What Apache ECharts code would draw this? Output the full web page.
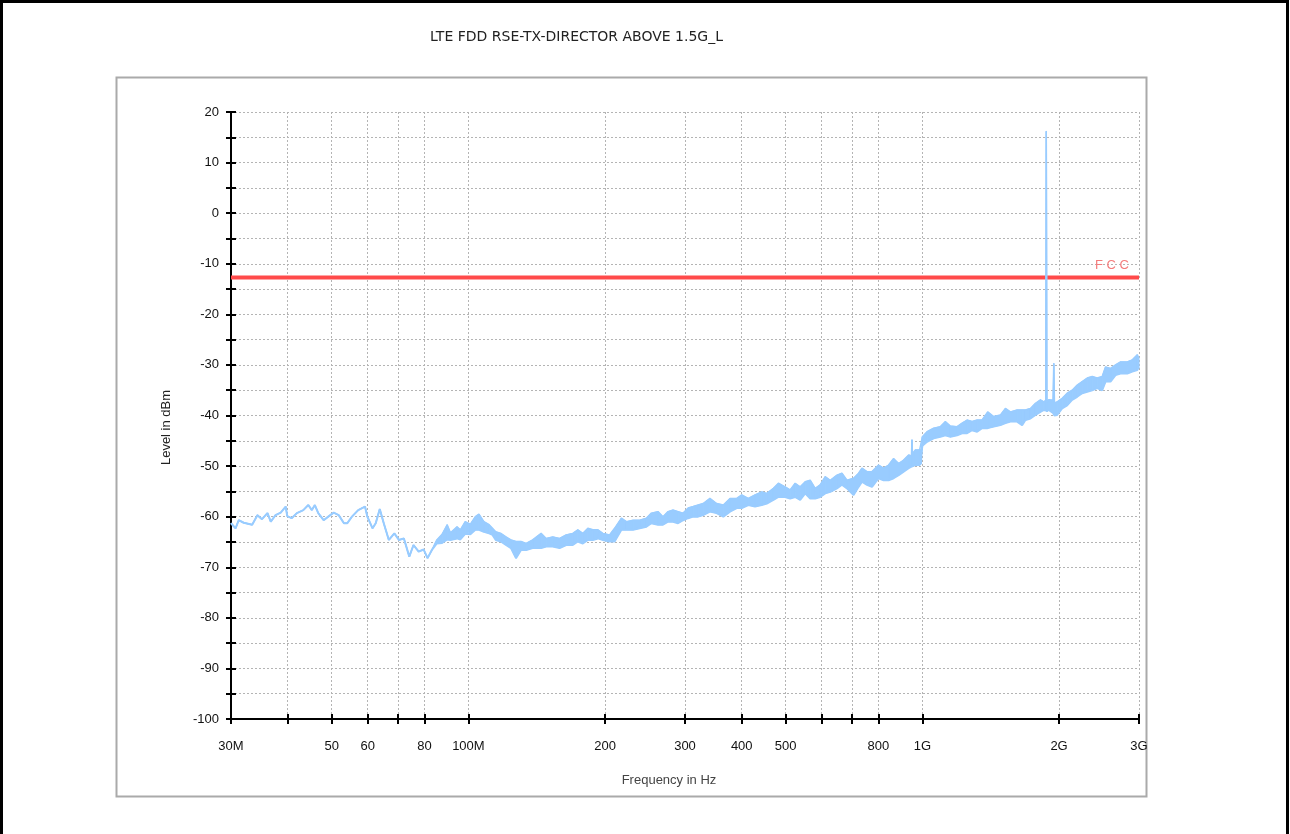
<!DOCTYPE html>
<html>
<head>
<meta charset="utf-8">
<title>LTE FDD RSE-TX-DIRECTOR ABOVE 1.5G_L</title>
<script src="https://cdn.jsdelivr.net/npm/echarts@6/dist/echarts.min.js"></script>
<style>
  html, body { margin: 0; padding: 0; background: #fff; }
  #chart { width: 1290px; height: 834px; }
</style>
</head>
<body>
<div id="chart"></div>
<script>
// frequency in MHz, level in dBm (lower / upper edge of the measured trace)
const freqMHz = [
  30, 30.7, 31.2, 32.0, 33.4, 34.3, 35.1, 36.1, 36.7, 37.6,
  38.6, 39.6, 39.9, 40.8, 41.9, 43.3, 44.4, 45.2, 45.9, 46.7,
  48.0, 49.3, 50.5, 51.8, 53.2, 54.1, 55.4, 57.2, 59.2, 59.9,
  61.5, 62.5, 63.8, 65.1, 66.8, 68.7, 70.3, 72.1, 74.1, 75.7,
  77.7, 79.7, 81.3, 83.2, 85.2, 87.5, 89.8, 91.3, 94.4, 96.0,
  98.4, 101, 103.6, 105.5, 108.2, 111.1, 113.0, 114.9, 117.9, 121.0,
  124.1, 127.3, 130.6, 134.0, 138.5, 144.6, 148.4, 153.4, 158.8, 164.2,
  169.8, 174.2, 178.7, 183.3, 188.0, 192.9, 197.8, 204.6, 209.9, 217.3,
  222.9, 230.5, 238.4, 246.6, 252.9, 261.6, 268.3, 275.2, 282.3, 289.6,
  297.1, 304.7, 312.6, 320.6, 328.9, 340.4, 352.2, 364.3, 376.9, 390.0,
  400.0, 413.6, 427.9, 442.8, 454.2, 469.7, 481.8, 498.4, 511.3, 524.5,
  538.0, 551.9, 566.1, 580.6, 595.5, 610.9, 626.6, 648.3, 665.0, 682.1,
  705.4, 723.5, 736.1, 755.0, 774.5, 800.8, 821.3, 842.5, 864.1, 886.4,
  909.2, 932.6, 946.0, 948.6, 951.0, 964.8, 986.1, 995.0, 1000, 1023.9,
  1058.9, 1095.5, 1123.6, 1152.4, 1192.3, 1223.0, 1254.4, 1286.8, 1319.8, 1353.6,
  1392.8, 1435.8, 1485.5, 1523.6, 1562.7, 1616.8, 1658.3, 1686.4, 1729.7, 1774.1,
  1819.8, 1850.6, 1870, 1874.5, 1876.5, 1881, 1898.0, 1940, 1947, 1954,
  1980.6, 2031.5, 2083.6, 2137.0, 2192.5, 2248.7, 2306.4, 2366.1, 2426.8, 2489.1,
  2531.4, 2596.5, 2663.0, 2731.4, 2826.2, 2899.2, 2973.8, 3000
]
const levelLow = [
  -61.3, -62.3, -60.7, -61.2, -61.6, -59.7, -60.5, -59.3, -61.0, -59.7,
  -59.2, -58.0, -59.9, -60.3, -59.3, -58.7, -57.7, -58.7, -57.7, -59.3,
  -60.7, -59.9, -59.2, -59.7, -61.3, -61.3, -60.0, -58.7, -58.0, -60.0,
  -62.3, -61.3, -58.5, -61.3, -64.6, -63.3, -64.6, -64.3, -67.9, -65.6,
  -66.9, -66.5, -68.2, -66.5, -65.3, -65.2, -64.5, -64.6, -64.3, -64.5,
  -63.4, -63.5, -62.6, -62.6, -63.0, -63.3, -63.6, -64.6, -64.9, -65.6,
  -66.2, -68.2, -66.6, -66.6, -66.2, -66.2, -65.9, -65.9, -66.2, -65.6,
  -65.6, -64.9, -65.3, -64.6, -64.6, -64.3, -64.6, -64.9, -64.9, -62.6,
  -62.6, -62.6, -62.3, -62.0, -61.3, -61.6, -61.6, -61.0, -61.0, -61.3,
  -60.7, -60.3, -60.0, -60.0, -59.7, -59.0, -59.3, -60.0, -59.0, -58.3,
  -58.3, -57.7, -58.0, -57.7, -57.4, -56.7, -56.1, -56.1, -56.4, -56.1,
  -56.7, -55.4, -56.4, -56.4, -56.1, -55.4, -55.1, -54.4, -53.7, -54.4,
  -55.7, -54.1, -53.1, -53.7, -54.1, -52.4, -52.8, -52.8, -52.4, -51.8,
  -51.1, -50.4, -50.1, -50.1, -50.1, -49.8, -49.8, -49.6, -46.0, -45.2,
  -44.5, -44.2, -43.9, -44.2, -43.9, -43.5, -43.5, -42.9, -43.2, -42.5,
  -42.5, -42.2, -41.9, -41.5, -41.2, -41.2, -41.9, -40.9, -40.6, -39.9,
  -39.3, -38.9, -39.0, -39.0, -39.0, -39.3, -38.9, -39.5, -39.5, -40.0,
  -39.9, -38.6, -38.0, -36.9, -36.3, -35.6, -35.3, -35.0, -34.6, -35.0,
  -33.3, -33.3, -32.0, -31.7, -31.7, -31.3, -31.0, -30.4
]
const levelHigh = [
  -61.3, -62.3, -60.7, -61.2, -61.6, -59.7, -60.5, -59.3, -61.0, -59.7,
  -59.2, -58.0, -59.9, -60.3, -59.3, -58.7, -57.7, -58.7, -57.7, -59.3,
  -60.7, -59.9, -59.2, -59.7, -61.3, -61.3, -60.0, -58.7, -58.0, -60.0,
  -62.3, -61.3, -58.5, -61.3, -64.6, -63.3, -64.6, -64.3, -67.9, -65.6,
  -66.9, -66.5, -68.2, -66.5, -64.6, -63.5, -61.6, -63.2, -62.0, -62.6,
  -61.0, -61.5, -60.0, -59.5, -61.0, -61.6, -62.3, -63.0, -63.3, -64.0,
  -64.6, -64.9, -64.9, -65.3, -64.6, -63.3, -64.3, -64.0, -64.3, -63.6,
  -63.3, -62.6, -63.3, -62.3, -62.6, -62.6, -63.3, -63.6, -62.3, -60.3,
  -61.0, -60.7, -60.7, -60.3, -59.3, -59.0, -60.0, -59.0, -58.7, -59.0,
  -59.3, -58.3, -58.0, -57.7, -57.4, -56.4, -57.4, -57.7, -56.4, -56.4,
  -55.7, -56.4, -55.7, -55.1, -55.4, -54.4, -53.4, -54.1, -54.7, -53.4,
  -54.1, -53.1, -52.8, -54.4, -53.7, -52.1, -52.8, -51.8, -51.4, -52.8,
  -52.4, -51.4, -50.4, -51.1, -51.1, -49.8, -50.4, -49.8, -48.5, -49.5,
  -48.8, -47.8, -48.0, -44.8, -47.6, -46.8, -46.8, -46.5, -44.2, -43.2,
  -42.5, -42.2, -41.2, -42.1, -42.2, -41.5, -40.9, -41.2, -40.9, -40.9,
  -39.3, -40.2, -39.9, -38.6, -39.3, -38.9, -38.9, -38.9, -38.6, -37.6,
  -36.9, -37.3, -37.0, 16.2, 16.2, -37.3, -36.9, -37.0, -29.7, -37.5,
  -37.3, -36.6, -35.6, -35.0, -34.0, -33.3, -32.6, -32.3, -32.6, -32.3,
  -30.4, -30.7, -30.0, -29.4, -29.4, -29.0, -28.0, -28.7
]
const fccLimit = -12.7

const xTickValues = [30, 40, 50, 60, 70, 80, 100, 200, 300, 400, 500, 600, 700, 800, 1000, 2000, 3000]
const xLabelValues = [30, 50, 60, 80, 100, 200, 300, 400, 500, 800, 1000, 2000, 3000]
const xLabelText = ['30M', '50', '60', '80', '100M', '200', '300', '400', '500', '800', '1G', '2G', '3G']

const traceColor = '#99ccff'
const limitColor = '#ff4a4a'
const gridDots = { color: '#b4b4b4', width: 1, type: [2, 2] }
const axisBlack = { color: '#000', width: 2 }

const chart = echarts.init(document.getElementById('chart'), null, { renderer: 'canvas' })

const bandData = freqMHz.map((f, i) => [f, levelLow[i], levelHigh[i]])

// fill the gap between the low and high edge, one quad per step
function renderBand(params, api) {
  const i = params.dataIndex
  if (i >= freqMHz.length - 1) return null
  const a = api.coord([api.value(0), api.value(1)])
  const b = api.coord([freqMHz[i + 1], levelLow[i + 1]])
  const c = api.coord([freqMHz[i + 1], levelHigh[i + 1]])
  const d = api.coord([api.value(0), api.value(2)])
  return {
    type: 'polygon',
    shape: { points: [a, b, c, d] },
    style: { fill: traceColor, stroke: traceColor, lineWidth: 1 }
  }
}

chart.setOption({
  animation: false,
  backgroundColor: '#fff',
  textStyle: { fontFamily: 'Liberation Sans, Arial, sans-serif' },
  title: {
    text: 'LTE FDD RSE-TX-DIRECTOR ABOVE 1.5G_L',
    left: 425,
    top: 25,
    textStyle: { fontSize: 14, fontWeight: 'normal', color: '#222', fontFamily: 'DejaVu Sans' }
  },
  graphic: [
    {
      type: 'rect', z: -10, silent: true,
      shape: { x: 1.5, y: 1.5, width: 1286, height: 840 },
      style: { fill: '#fff', stroke: '#000', lineWidth: 3 }
    },
    {
      type: 'rect', z: -9, silent: true,
      shape: { x: 116.5, y: 77.5, width: 1030, height: 719 },
      style: { fill: '#fff', stroke: '#aaaaaa', lineWidth: 2 }
    }
  ],
  grid: {
    left: 231,
    right: 151,
    top: 112,
    bottom: 115,
    containLabel: false
  },
  xAxis: [
    {
      type: 'log',
      logBase: 10,
      min: 30,
      max: 3000,
      position: 'bottom',
      name: 'Frequency in Hz',
      nameLocation: 'middle',
      nameGap: 55,
      nameTextStyle: { fontSize: 13, color: '#444', padding: [0, 32, 0, 0] },
      axisLine: { show: true, onZero: false, lineStyle: axisBlack },
      axisTick: { show: true, customValues: xTickValues, length: 5, lineStyle: axisBlack },
      minorTick: { show: false },
      axisLabel: {
        customValues: xLabelValues,
        margin: 21,
        fontSize: 13,
        color: '#111',
        formatter: v => xLabelText[xLabelValues.indexOf(Math.round(v))] || ''
      },
      splitLine: { show: true, lineStyle: gridDots },
      minorSplitLine: { show: false }
    },
    {
      type: 'log',
      logBase: 10,
      min: 30,
      max: 3000,
      position: 'bottom',
      offset: 0,
      axisLine: { show: false, onZero: false },
      axisTick: { show: true, inside: true, customValues: xTickValues, length: 5, lineStyle: axisBlack },
      axisLabel: { show: false },
      splitLine: { show: false }
    }
  ],
  yAxis: [
    {
      type: 'value',
      min: -100,
      max: 20,
      interval: 5,
      position: 'left',
      name: 'Level in dBm',
      nameLocation: 'middle',
      nameGap: 58,
      nameRotate: 90,
      nameTextStyle: { fontSize: 13, color: '#222', padding: [0, 24, 0, 0] },
      axisLine: { show: true, onZero: false, lineStyle: axisBlack },
      axisTick: { show: true, length: 5, lineStyle: axisBlack },
      axisLabel: {
        margin: 12,
        fontSize: 13,
        color: '#111',
        formatter: v => (v % 10 === 0 ? String(v) : '')
      },
      splitLine: { show: true, lineStyle: gridDots }
    },
    {
      type: 'value',
      min: -100,
      max: 20,
      interval: 5,
      position: 'left',
      offset: 0,
      axisLine: { show: false, onZero: false },
      axisTick: { show: true, inside: true, length: 5, lineStyle: axisBlack },
      axisLabel: { show: false },
      splitLine: { show: false }
    }
  ],
  series: [
    {
      name: 'FCC',
      type: 'line',
      data: [[30, fccLimit], [3000, fccLimit]],
      symbol: 'none',
      z: 1,
      lineStyle: { color: limitColor, width: 4 },
      markLine: {
        silent: true,
        symbol: 'none',
        data: [{ yAxis: fccLimit }],
        lineStyle: { color: 'rgba(0,0,0,0)', width: 1, type: 'solid' },
        label: {
          show: true,
          formatter: 'F C C',
          position: 'insideEndTop',
          distance: [10, 5],
          color: '#f47c7c',
          fontSize: 13
        }
      }
    },
    {
      name: 'band',
      type: 'custom',
      data: bandData,
      encode: { x: 0, y: [1, 2] },
      renderItem: renderBand,
      z: 3,
      silent: true
    },
    {
      name: 'low',
      type: 'line',
      data: freqMHz.map((f, i) => [f, levelLow[i]]),
      symbol: 'none',
      z: 4,
      lineStyle: { color: traceColor, width: 2 }
    },
    {
      name: 'high',
      type: 'line',
      data: freqMHz.map((f, i) => [f, levelHigh[i]]),
      symbol: 'none',
      z: 4,
      lineStyle: { color: traceColor, width: 1.5 }
    }
  ]
})
</script>
</body>
</html>
